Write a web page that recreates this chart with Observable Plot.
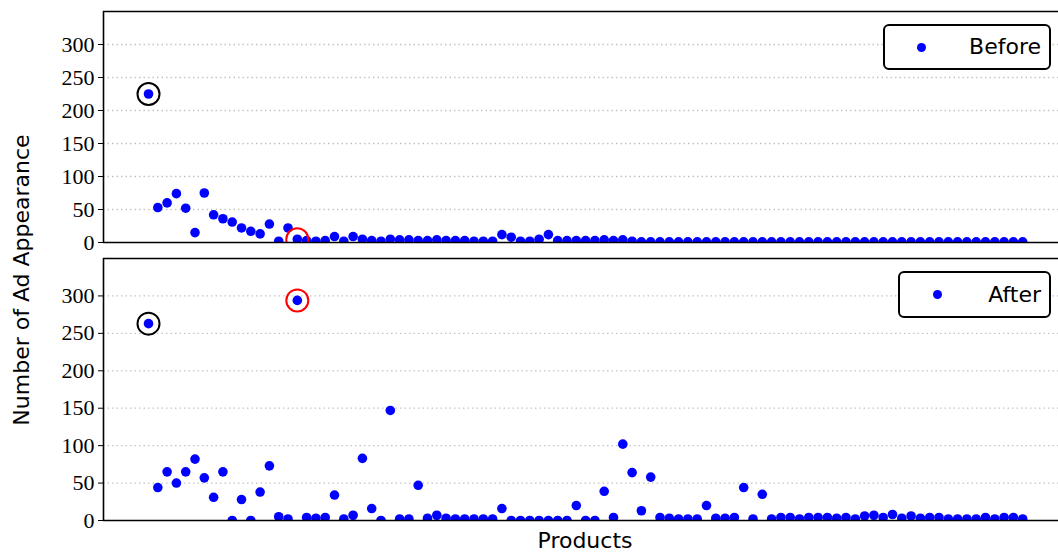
<!DOCTYPE html>
<html><head><meta charset="utf-8">
<script src="https://cdn.jsdelivr.net/npm/d3@7"></script>
<script src="https://cdn.jsdelivr.net/npm/@observablehq/plot@0.6"></script>
<style>
body{margin:0;background:#fff;overflow:hidden}
#wrap{position:relative;width:1058px;height:552px;background:#fff}
.panel{position:absolute;left:0;overflow:visible}
.panel text{font-family:"Liberation Serif",serif !important;font-size:22px !important;fill:#000}
.lbl{position:absolute;font-family:"DejaVu Sans";font-size:22px;color:#000;white-space:nowrap;line-height:1}
.legend{position:absolute;border:2px solid #000;border-radius:6px;background:#fff;box-sizing:border-box}
.legend .dot{position:absolute;width:9px;height:9px;border-radius:50%;background:#0000ff}
.legend .txt{position:absolute;font-family:"DejaVu Sans";font-size:22px;line-height:1;color:#000}
</style>
</head><body>
<div id="wrap"></div>
<script>
// Data
const beforeValues = [225,53,60,74,52,15,75,42,36,31,22,17,13,28,2,22,5,3,2,3,
  9,2,9,5,3,2,5,4,4,3,3,4,3,3,3,2,2,2,12,8,
  2,2,5,12,3,3,3,3,3,4,3,4,2,1,1,1,1,1,1,1,
  1,1,1,1,1,1,1,1,1,1,1,1,1,1,1,1,1,1,1,1,
  1,1,1,1,1,1,1,1,1,1,1,1,1,1,1];
const afterValues = [263,44,65,50,65,82,57,31,65,0,28,0,38,73,5,2,294,4,3,4,
  34,2,7,83,16,0,147,2,2,47,3,7,3,2,2,2,2,2,16,0,
  0,0,0,0,0,0,20,0,0,39,4,102,64,13,58,4,3,2,2,2,
  20,3,3,4,44,2,35,2,4,4,2,4,4,4,3,4,2,6,7,4,
  8,3,6,3,4,4,2,2,2,2,4,2,4,4,2];
const yTicks = [0,50,100,150,200,250,300];
const seriesLabels = ["Before","After"];
const blackIdx = 0, redIdx = 16;

const xDomain = [-4.84, 97.85];

function panel(values, height, mt, mb) {
  const data = values.map((v, i) => ({i, v}));
  return Plot.plot({
    width: 1058, height, marginLeft: 103, marginRight: 0, marginTop: mt, marginBottom: mb,
    style: {fontFamily: "Liberation Serif", fontSize: "22px", background: "white", color: "black", overflow: "visible"},
    x: {domain: xDomain, axis: null},
    y: {domain: [0, 350], ticks: yTicks, tickSize: 5, tickPadding: 4, label: null, tickFormat: d => String(d)},
    marks: [
      Plot.ruleY(yTicks.filter(t => t > 0), {stroke: "#c4c4c4", strokeDasharray: "1.5,3", strokeWidth: 1.3}),
      Plot.dot(data, {x: "i", y: "v", r: 4.8, fill: "#0000ff", clip: true}),
      Plot.dot([data[blackIdx]], {x: "i", y: "v", r: 11, stroke: "black", strokeWidth: 2, fill: "none", clip: true}),
      Plot.dot([data[redIdx]], {x: "i", y: "v", r: 11, stroke: "red", strokeWidth: 2, fill: "none", clip: true}),
      Plot.ruleY([0, 350], {stroke: "black", strokeWidth: 1.6}),
      Plot.ruleX([xDomain[0]], {stroke: "black", strokeWidth: 1.6})
    ]
  });
}

const wrap = document.getElementById("wrap");
const botPanel = panel(afterValues, 302, 8, 32);
botPanel.classList.add("panel"); botPanel.style.top = "250px";
wrap.appendChild(botPanel);
const topPanel = panel(beforeValues, 250, 11, 8);
topPanel.classList.add("panel"); topPanel.style.top = "0px"; topPanel.style.background = "transparent";
wrap.appendChild(topPanel);

function legend(label, left, topPx, w, h, dotX, txtRight) {
  const d = document.createElement("div");
  d.className = "legend";
  Object.assign(d.style, {left: left + "px", top: topPx + "px", width: w + "px", height: h + "px"});
  const dot = document.createElement("div");
  dot.className = "dot";
  Object.assign(dot.style, {left: (dotX - left - 2 - 4.5) + "px", top: (h / 2 - 2 - 4.5) + "px"});
  const t = document.createElement("div");
  t.className = "txt";
  t.textContent = label;
  Object.assign(t.style, {right: (left + w - txtRight - 2) + "px", top: (h / 2 - 2 - 11) + "px"});
  d.appendChild(dot); d.appendChild(t);
  wrap.appendChild(d);
}
legend(seriesLabels[0], 883, 24, 168, 46, 921, 1041);
legend(seriesLabels[1], 898, 271, 153, 47, 937, 1041);

const yl = document.createElement("div");
yl.className = "lbl";
yl.textContent = "Number of Ad Appearance";
Object.assign(yl.style, {left: "22px", top: "280px", transform: "translate(-50%,-50%) rotate(-90deg)"});
wrap.appendChild(yl);

const xl = document.createElement("div");
xl.className = "lbl";
xl.textContent = "Products";
Object.assign(xl.style, {left: "585px", top: "541px", transform: "translate(-50%,-50%)"});
wrap.appendChild(xl);
</script>
</body></html>
